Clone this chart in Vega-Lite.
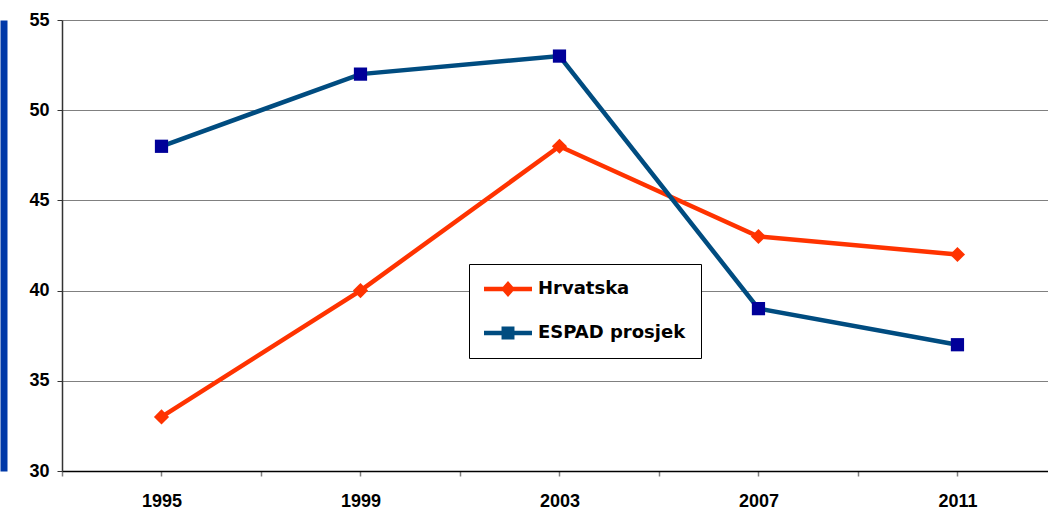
{
  "$schema": "https://vega.github.io/schema/vega-lite/v6.json",
  "autosize": "none",
  "width": 986,
  "height": 451,
  "padding": {"left": 62, "top": 20, "right": 0, "bottom": 38},
  "background": "white",
  "config": {"view": {"stroke": null}},
  "data": {"values": [
    {"year": 1995, "series": "Hrvatska", "value": 33},
    {"year": 1999, "series": "Hrvatska", "value": 40},
    {"year": 2003, "series": "Hrvatska", "value": 48},
    {"year": 2007, "series": "Hrvatska", "value": 43},
    {"year": 2011, "series": "Hrvatska", "value": 42},
    {"year": 1995, "series": "ESPAD prosjek", "value": 48},
    {"year": 1999, "series": "ESPAD prosjek", "value": 52},
    {"year": 2003, "series": "ESPAD prosjek", "value": 53},
    {"year": 2007, "series": "ESPAD prosjek", "value": 39},
    {"year": 2011, "series": "ESPAD prosjek", "value": 37}
  ]},
  "resolve": {"axis": {"y": "independent"}},
  "encoding": {
    "x": {
      "field": "year", "type": "quantitative",
      "scale": {"domain": [1993, 2012.82], "nice": false, "zero": false},
      "axis": {
        "title": null,
        "values": [1993, 1995, 1997, 1999, 2001, 2003, 2005, 2007, 2009, 2011],
        "labelExpr": "datum.value % 4 == 3 ? '' + datum.value : ''",
        "tickColor": "#808080",
        "tickSize": 5,
        "tickWidth": 1.5,
        "grid": false,
        "domainColor": "#000000",
        "domainWidth": 1.5,
        "labelFont": "Liberation Sans",
        "labelFontWeight": "bold",
        "labelFontSize": 18,
        "labelColor": "#000000",
        "labelPadding": 16,
        "labelFlush": false,
        "labelOverlap": false,
        "encode": {
          "ticks": {"update": {"opacity": {"signal": "datum.value % 4 == 1 ? 1 : 0"}}}
        }
      }
    }
  },
  "layer": [
    {
      "mark": {"type": "line", "strokeWidth": 4.5},
      "encoding": {
        "y": {
          "field": "value", "type": "quantitative",
          "scale": {"domain": [30, 55], "nice": false, "zero": false},
          "axis": {
            "title": null,
            "orient": "left",
            "values": [30, 35, 40, 45, 50, 55],
            "grid": true,
            "gridColor": "#808080",
            "gridWidth": 1,
            "domainColor": "#333333",
            "domainWidth": 1.5,
            "tickColor": "#333333",
            "tickSize": 5,
            "labelFont": "Liberation Sans",
            "labelFontWeight": "bold",
            "labelFontSize": 18,
            "labelColor": "#000000",
            "labelPadding": 8
          }
        },
        "color": {
          "field": "series", "type": "nominal",
          "scale": {"domain": ["Hrvatska", "ESPAD prosjek"], "range": ["#FF3300", "#004C80"]},
          "legend": {
            "title": null,
            "orient": "none",
            "legendX": 407,
            "legendY": 244,
            "fillColor": "white",
            "strokeColor": "#000000",
            "padding": 15,
            "symbolType": "square",
            "symbolSize": 2304,
            "clipHeight": 20,
            "rowPadding": 24,
            "labelFont": "DejaVu Sans",
            "labelFontSize": 18,
            "labelFontWeight": "bold",
            "labelColor": "#000000",
            "labelOffset": 6,
            "encode": {
              "symbols": {
                "update": {
                  "shape": {"signal": "datum.value === 'Hrvatska' ? 'M-1,-0.09L-0.21,-0.09L0,-0.33L0.21,-0.09L1,-0.09L1,0.09L0.21,0.09L0,0.33L-0.21,0.09L-1,0.09Z' : 'M-1,-0.09L-0.27,-0.09L-0.27,-0.27L0.27,-0.27L0.27,-0.09L1,-0.09L1,0.09L0.27,0.09L0.27,0.27L-0.27,0.27L-0.27,0.09L-1,0.09Z'"},
                  "fill": {"signal": "datum.value === 'Hrvatska' ? '#FF3300' : '#004C80'"},
                  "fillOpacity": {"value": 1},
                  "opacity": {"value": 1},
                  "strokeWidth": {"value": 0}
                }
              }
            }
          }
        }
      }
    },
    {
      "transform": [{"filter": "datum.series === 'Hrvatska'"}],
      "mark": {"type": "point", "filled": true, "opacity": 1, "strokeWidth": 0, "shape": "diamond", "fill": "#FF3300", "size": 230},
      "encoding": {
        "y": {
          "field": "value", "type": "quantitative",
          "scale": {"domain": [30, 55], "nice": false, "zero": false},
          "axis": null
        }
      }
    },
    {
      "transform": [{"filter": "datum.series === 'ESPAD prosjek'"}],
      "mark": {"type": "point", "filled": true, "opacity": 1, "strokeWidth": 0, "shape": "square", "fill": "#000099", "size": 175},
      "encoding": {
        "y": {
          "field": "value", "type": "quantitative",
          "scale": {"domain": [30, 55], "nice": false, "zero": false},
          "axis": {
            "title": null,
            "orient": "left",
            "offset": 58.5,
            "labels": false,
            "ticks": false,
            "grid": false,
            "domain": true,
            "domainColor": "#0038A8",
            "domainWidth": 7
          }
        }
      }
    }
  ]
}
